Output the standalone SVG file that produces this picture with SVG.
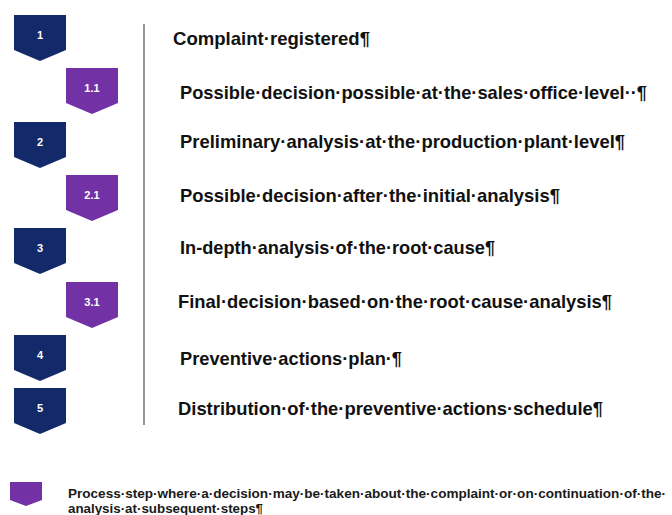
<svg xmlns="http://www.w3.org/2000/svg" width="672" height="515" viewBox="0 0 672 515">
  <style>
    .step { fill: #12296a; }
    .decision { fill: #7232a6; }
    .num { font-family: "Liberation Sans", Arial, sans-serif; font-weight: bold; font-size: 11px; fill: #ffffff; text-anchor: middle; }
    .label { font-family: "Liberation Sans", Arial, sans-serif; font-weight: bold; font-size: 18.5px; fill: #111111; }
    .legend { font-family: "Liberation Sans", Arial, sans-serif; font-weight: bold; font-size: 12.5px; fill: #1a1a1a; }
  </style>
  <defs>
    <!-- chevron-bottom tag used for every step -->
    <path id="tag" d="M0,0 H52 V35 L26,46 L0,35 Z"/>
  </defs>
  <rect width="672" height="515" fill="#ffffff"/>

  <g id="connectors">
    <line x1="144" y1="24" x2="144" y2="425" stroke="#7a7a7a" stroke-width="1.6"/>
  </g>

  <g id="step-1">
    <use href="#tag" class="step" x="14" y="15"/>
    <text class="num" x="40" y="39">1</text>
    <text class="label" x="173" y="45" textLength="197" lengthAdjust="spacingAndGlyphs">Complaint·registered¶</text>
  </g>
  <g id="step-1-1">
    <use href="#tag" class="decision" x="66" y="68"/>
    <text class="num" x="92" y="92">1.1</text>
    <text class="label" x="180" y="99" textLength="467" lengthAdjust="spacingAndGlyphs">Possible·decision·possible·at·the·sales·office·level··¶</text>
  </g>
  <g id="step-2">
    <use href="#tag" class="step" x="14" y="122"/>
    <text class="num" x="40" y="146">2</text>
    <text class="label" x="180" y="148" textLength="445" lengthAdjust="spacingAndGlyphs">Preliminary·analysis·at·the·production·plant·level¶</text>
  </g>
  <g id="step-2-1">
    <use href="#tag" class="decision" x="66" y="175"/>
    <text class="num" x="92" y="199">2.1</text>
    <text class="label" x="180" y="202" textLength="380" lengthAdjust="spacingAndGlyphs">Possible·decision·after·the·initial·analysis¶</text>
  </g>
  <g id="step-3">
    <use href="#tag" class="step" x="14" y="228"/>
    <text class="num" x="40" y="252">3</text>
    <text class="label" x="180" y="254" textLength="315" lengthAdjust="spacingAndGlyphs">In-depth·analysis·of·the·root·cause¶</text>
  </g>
  <g id="step-3-1">
    <use href="#tag" class="decision" x="66" y="282"/>
    <text class="num" x="92" y="306">3.1</text>
    <text class="label" x="178" y="308" textLength="434" lengthAdjust="spacingAndGlyphs">Final·decision·based·on·the·root·cause·analysis¶</text>
  </g>
  <g id="step-4">
    <use href="#tag" class="step" x="14" y="335"/>
    <text class="num" x="40" y="359">4</text>
    <text class="label" x="180" y="365" textLength="222" lengthAdjust="spacingAndGlyphs">Preventive·actions·plan·¶</text>
  </g>
  <g id="step-5">
    <use href="#tag" class="step" x="14" y="388"/>
    <text class="num" x="40" y="412">5</text>
    <text class="label" x="178" y="415" textLength="425" lengthAdjust="spacingAndGlyphs">Distribution·of·the·preventive·actions·schedule¶</text>
  </g>

  <g id="legend">
    <path class="decision" d="M10,482 H42 V500 L26,506 L10,500 Z"/>
    <text class="legend" x="68" y="498" textLength="598" lengthAdjust="spacingAndGlyphs">Process·step·where·a·decision·may·be·taken·about·the·complaint·or·on·continuation·of·the·</text>
    <text class="legend" x="68" y="513" textLength="195" lengthAdjust="spacingAndGlyphs">analysis·at·subsequent·steps¶</text>
  </g>
</svg>
